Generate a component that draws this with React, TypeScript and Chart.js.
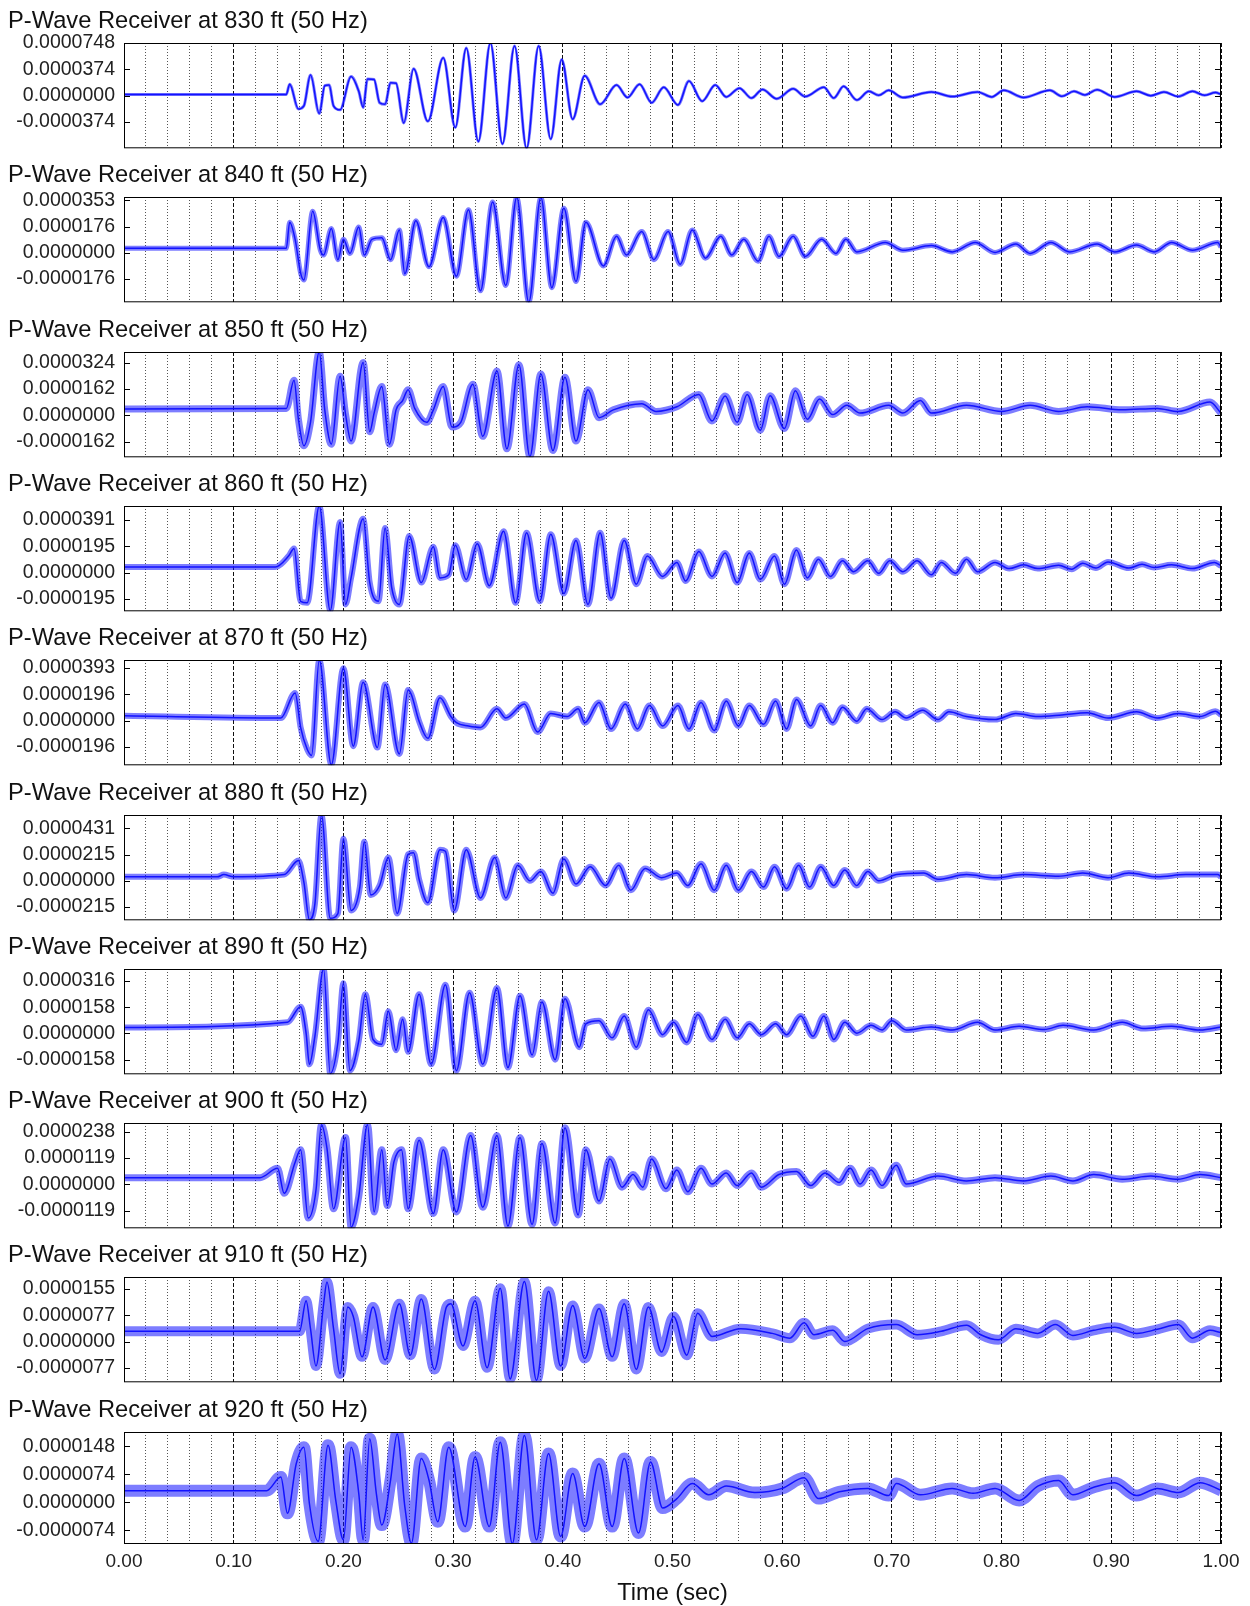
import React, { useEffect, useRef } from "react";
import { Chart, registerables } from "chart.js";
Chart.register(...registerables);

// ---- data (time in s, amplitude in micro-units, i.e. x 1e-6) ----
const panelTitles = [
  "P-Wave Receiver at 830 ft (50 Hz)",
  "P-Wave Receiver at 840 ft (50 Hz)",
  "P-Wave Receiver at 850 ft (50 Hz)",
  "P-Wave Receiver at 860 ft (50 Hz)",
  "P-Wave Receiver at 870 ft (50 Hz)",
  "P-Wave Receiver at 880 ft (50 Hz)",
  "P-Wave Receiver at 890 ft (50 Hz)",
  "P-Wave Receiver at 900 ft (50 Hz)",
  "P-Wave Receiver at 910 ft (50 Hz)",
  "P-Wave Receiver at 920 ft (50 Hz)",
];

const yTickMax = [0.0000748, 0.0000353, 0.0000324, 0.0000391, 0.0000393, 0.0000431, 0.0000316, 0.0000238, 0.0000155, 0.0000148];
const yTickHalf = [0.0000374, 0.0000176, 0.0000162, 0.0000195, 0.0000196, 0.0000215, 0.0000158, 0.0000119, 0.0000077, 0.0000074];
// axis limits (micro-units)
const yAxisMax = [74.8, 37.4, 38.9, 49.5, 45.2, 53.9, 38.7, 27.7, 19.0, 18.6];
const yAxisMin = [-74.8, -33.2, -25.9, -28.7, -33.4, -32.3, -24.5, -19.9, -12.0, -11.0];

const xTickLabels = ["0.00", "0.10", "0.20", "0.30", "0.40", "0.50", "0.60", "0.70", "0.80", "0.90", "1.00"];
const xAxisTitle = "Time (sec)";

const trace830 = [[0,1.8],[0.148,1.8],[0.151,16.3],[0.159,-18.9],[0.164,-14.5],[0.170,29.5],[0.178,-25.5],[0.183,14.1],[0.187,15.0],[0.191,-14.5],[0.197,-20.2],[0.207,27.3],[0.214,6.2],[0.218,-16.7],[0.222,23.8],[0.228,22.9],[0.233,-10.1],[0.238,-12.3],[0.243,18.5],[0.248,17.6],[0.255,-38.7],[0.264,38.3],[0.277,-36.5],[0.291,53.7],[0.302,-45.3],[0.312,67.8],[0.323,-65.1],[0.334,74.8],[0.345,-68.6],[0.356,70.4],[0.367,-74.8],[0.378,70.4],[0.389,-61.6],[0.399,51.5],[0.409,-33.4],[0.420,28.2],[0.434,-12.3],[0.449,15.0],[0.459,-2.6],[0.470,16.3],[0.481,-10.1],[0.492,11.9],[0.505,-13.2],[0.515,20.7],[0.527,-7.9],[0.539,15.0],[0.549,-1.8],[0.561,10.6],[0.572,-3.5],[0.582,8.8],[0.595,-4.4],[0.610,9.7],[0.621,-1.3],[0.638,11.9],[0.647,-3.5],[0.656,13.2],[0.668,-6.2],[0.679,6.2],[0.688,0.5],[0.697,7.5],[0.710,-2.6],[0.736,5.3],[0.755,-1.3],[0.778,5.3],[0.791,-1.8],[0.802,7.5],[0.820,-2.6],[0.844,7.5],[0.855,-0.9],[0.866,6.2],[0.876,1.0],[0.887,8.4],[0.903,-1.8],[0.923,6.2],[0.936,0.0],[0.948,5.3],[0.961,-1.3],[0.974,6.2],[0.985,0.5],[0.995,4.4],[1.0,1.8]];

const trace840 = [[0,3.1],[0.148,3.1],[0.151,20.5],[0.156,9.0],[0.161,-13.6],[0.164,-18.2],[0.172,27.8],[0.179,1.7],[0.182,-1.5],[0.189,16.3],[0.195,-4.6],[0.200,9.0],[0.206,-0.4],[0.214,17.3],[0.219,-1.5],[0.226,9.0],[0.235,10.0],[0.243,-4.6],[0.251,15.3],[0.256,-14.0],[0.266,21.5],[0.278,-9.4],[0.291,23.6],[0.303,-15.7],[0.314,28.8],[0.325,-25.5],[0.336,34.1],[0.348,-21.9],[0.358,37.2],[0.369,-33.2],[0.380,37.2],[0.390,-23.4],[0.401,29.9],[0.412,-19.2],[0.421,20.5],[0.437,-8.8],[0.449,11.1],[0.458,-1.5],[0.472,14.2],[0.483,-4.6],[0.496,14.2],[0.507,-7.7],[0.518,15.3],[0.530,-3.6],[0.544,11.1],[0.554,-1.5],[0.565,9.0],[0.578,-5.6],[0.588,11.1],[0.597,-2.5],[0.610,11.1],[0.621,-2.5],[0.636,9.0],[0.649,-0.4],[0.658,9.0],[0.668,0.6],[0.694,6.9],[0.710,1.7],[0.736,4.8],[0.755,0.6],[0.776,6.9],[0.794,0.2],[0.813,5.9],[0.826,-0.4],[0.845,6.9],[0.862,0.6],[0.887,5.9],[0.903,0.6],[0.923,5.2],[0.939,0.6],[0.955,6.9],[0.974,1.7],[0.997,6.9],[1.0,3.8]];

const trace850 = [[0,3.8],[0.148,4.2],[0.155,21.5],[0.159,-2.5],[0.164,-18.8],[0.170,-4.4],[0.178,38.9],[0.183,3.3],[0.189,-17.8],[0.197,24.0],[0.202,0.4],[0.207,-15.9],[0.218,32.4],[0.224,-10.2],[0.228,1.3],[0.235,17.6],[0.242,-17.8],[0.248,3.3],[0.254,9.0],[0.259,15.7],[0.265,4.2],[0.276,-4.4],[0.282,3.3],[0.291,17.6],[0.299,-7.3],[0.307,-4.4],[0.318,19.0],[0.327,-13.0],[0.340,27.2],[0.349,-20.7],[0.360,31.1],[0.370,-25.5],[0.380,25.3],[0.391,-21.7],[0.402,23.4],[0.412,-15.9],[0.423,15.7],[0.433,-1.5],[0.446,3.3],[0.472,7.1],[0.485,2.3],[0.504,5.2],[0.524,12.8],[0.536,-3.5],[0.548,11.9],[0.559,-4.4],[0.568,12.8],[0.580,-9.2],[0.589,11.9],[0.602,-8.2],[0.612,15.1],[0.623,-2.5],[0.634,10.0],[0.646,0.4],[0.659,6.1],[0.671,1.3],[0.697,6.1],[0.710,1.3],[0.726,9.0],[0.736,1.3],[0.768,6.1],[0.800,2.3],[0.826,6.1],[0.852,2.3],[0.878,5.2],[0.910,3.3],[0.942,4.2],[0.961,2.3],[0.990,8.1],[1.0,1.3]];

const trace860 = [[0,4.2],[0.138,4.2],[0.150,12.3],[0.155,18.0],[0.161,-21.3],[0.167,-22.4],[0.178,49.5],[0.188,-28.2],[0.197,37.7],[0.202,-23.6],[0.207,-3.9],[0.218,40.0],[0.224,-7.4],[0.232,-21.3],[0.238,33.1],[0.244,-10.9],[0.251,-23.6],[0.260,27.3],[0.271,-7.4],[0.282,19.2],[0.288,-3.9],[0.296,-1.6],[0.302,20.4],[0.312,-5.1],[0.322,21.5],[0.333,-9.7],[0.346,30.8],[0.357,-22.4],[0.367,29.6],[0.379,-21.3],[0.389,28.5],[0.401,-15.5],[0.412,23.8],[0.423,-23.6],[0.434,29.6],[0.444,-19.0],[0.456,23.8],[0.467,-8.6],[0.477,12.3],[0.491,-2.8],[0.504,7.6],[0.512,-6.2],[0.524,15.7],[0.536,-2.8],[0.548,14.6],[0.559,-7.4],[0.570,14.6],[0.580,-5.1],[0.593,12.3],[0.602,-8.6],[0.613,16.9],[0.623,-3.9],[0.633,10.0],[0.644,-2.8],[0.655,8.8],[0.665,0.7],[0.678,8.8],[0.688,-0.5],[0.698,8.8],[0.710,0.7],[0.723,8.8],[0.736,-1.6],[0.745,7.6],[0.758,-0.5],[0.768,10.0],[0.778,0.7],[0.794,7.6],[0.807,3.0],[0.820,5.8],[0.833,3.0],[0.852,5.5],[0.864,2.6],[0.874,7.0],[0.886,3.4],[0.897,8.0],[0.916,3.4],[0.928,6.2],[0.939,3.8],[0.955,5.8],[0.974,3.0],[0.994,7.6],[1.0,5.1]];

const trace870 = [[0,3.5],[0.143,1.9],[0.156,20.5],[0.161,-5.1],[0.167,-21.4],[0.171,-26.0],[0.178,45.1],[0.189,-33.0],[0.200,39.1],[0.209,-19.1],[0.218,28.6],[0.231,-20.2],[0.238,27.0],[0.251,-24.9],[0.259,22.8],[0.262,19.3],[0.269,-0.5],[0.277,-13.3],[0.288,17.0],[0.298,3.0],[0.303,-1.6],[0.314,-4.0],[0.325,-5.1],[0.340,8.8],[0.348,1.9],[0.365,12.3],[0.377,-8.6],[0.389,5.3],[0.404,3.0],[0.414,8.8],[0.420,-1.6],[0.433,13.5],[0.444,-6.3],[0.457,12.3],[0.468,-6.3],[0.479,11.2],[0.491,-4.0],[0.505,11.2],[0.515,-6.3],[0.526,13.5],[0.538,-7.4],[0.549,14.6],[0.560,-4.0],[0.570,11.2],[0.583,-2.8],[0.594,14.6],[0.604,-6.3],[0.613,15.8],[0.626,-4.0],[0.635,11.2],[0.646,-1.6],[0.655,10.0],[0.668,-0.5],[0.677,8.8],[0.691,0.7],[0.703,6.5],[0.713,1.9],[0.728,7.7],[0.742,0.7],[0.752,6.5],[0.768,3.0],[0.794,0.7],[0.813,5.3],[0.833,3.0],[0.855,4.2],[0.878,5.8],[0.897,1.9],[0.923,6.5],[0.942,1.9],[0.961,5.3],[0.981,3.0],[0.995,7.0],[1.0,4.2]];

const trace880 = [[0,3.3],[0.085,3.3],[0.091,5.1],[0.100,3.3],[0.146,5.1],[0.159,16.6],[0.164,-1.3],[0.169,-31.9],[0.174,-19.1],[0.180,53.8],[0.188,-30.6],[0.195,-26.8],[0.200,34.4],[0.207,-24.2],[0.215,-5.1],[0.219,31.9],[0.225,-11.5],[0.233,-3.8],[0.241,19.1],[0.249,-26.8],[0.259,21.7],[0.264,23.0],[0.269,1.3],[0.277,-17.9],[0.288,25.5],[0.293,24.2],[0.301,-24.2],[0.312,25.5],[0.325,-14.0],[0.338,19.1],[0.348,-14.0],[0.359,12.8],[0.370,0],[0.380,7.7],[0.391,-10.2],[0.401,17.9],[0.412,-2.6],[0.425,11.5],[0.439,-3.8],[0.451,12.8],[0.462,-7.7],[0.475,10.2],[0.490,2.6],[0.504,6.4],[0.514,-3.8],[0.526,14.0],[0.538,-7.7],[0.549,12.8],[0.560,-7.7],[0.572,7.7],[0.583,-5.1],[0.593,11.5],[0.604,-6.4],[0.615,12.8],[0.625,-5.1],[0.635,11.5],[0.647,-3.8],[0.657,8.9],[0.668,-3.8],[0.678,7.7],[0.688,0],[0.704,5.1],[0.729,6.4],[0.742,1.3],[0.768,5.1],[0.794,2.6],[0.820,5.1],[0.852,3.8],[0.874,6.4],[0.897,2.6],[0.916,6.4],[0.942,3.3],[0.968,5.1],[0.997,5.1],[1.0,3.3]];

const trace890 = [[0,3.6],[0.149,6.7],[0.161,16.1],[0.166,0.2],[0.169,-18.5],[0.174,-1.7],[0.182,38.7],[0.188,-24.1],[0.195,-5.4],[0.200,30.1],[0.206,-22.3],[0.214,-4.5],[0.220,23.6],[0.227,-3.6],[0.235,-6.4],[0.241,13.3],[0.248,-10.1],[0.254,8.6],[0.259,-11.0],[0.269,23.6],[0.280,-18.5],[0.293,29.2],[0.303,-22.3],[0.315,24.5],[0.327,-18.5],[0.340,27.3],[0.350,-20.4],[0.361,22.6],[0.372,-12.9],[0.381,18.9],[0.393,-15.7],[0.402,20.8],[0.415,-8.2],[0.421,5.8],[0.433,7.7],[0.445,-2.6],[0.456,10.5],[0.467,-8.2],[0.478,14.2],[0.491,-0.7],[0.501,6.7],[0.513,-5.4],[0.523,11.4],[0.536,-3.6],[0.548,8.6],[0.559,-2.6],[0.570,5.8],[0.581,-0.7],[0.594,5.8],[0.604,-0.7],[0.617,10.5],[0.628,-1.7],[0.638,10.5],[0.647,-3.6],[0.657,6.7],[0.668,0.2],[0.681,4.9],[0.691,2.1],[0.700,7.7],[0.713,2.1],[0.736,3.9],[0.755,2.1],[0.778,6.7],[0.794,2.1],[0.816,4.3],[0.839,2.4],[0.856,4.9],[0.884,2.1],[0.910,6.7],[0.929,3.0],[0.955,4.3],[0.981,2.1],[1.0,3.9]];

const trace900 = [[0,3.0],[0.124,3.0],[0.140,7.2],[0.146,-4.1],[0.156,10.0],[0.161,15.6],[0.168,-15.3],[0.175,-2.7],[0.180,26.9],[0.185,16.3],[0.191,-11.1],[0.202,21.1],[0.207,-19.4],[0.214,-5.5],[0.222,26.9],[0.228,-12.5],[0.235,15.6],[0.240,-9.7],[0.246,10.0],[0.253,15.6],[0.259,-11.1],[0.269,19.9],[0.282,-13.2],[0.291,15.6],[0.303,-12.5],[0.316,22.0],[0.327,-10.4],[0.340,22.0],[0.350,-18.9],[0.361,21.1],[0.372,-18.2],[0.381,18.4],[0.393,-17.5],[0.402,25.5],[0.414,-13.9],[0.421,15.6],[0.433,-7.6],[0.443,11.4],[0.454,-1.3],[0.464,4.4],[0.473,-1.3],[0.481,11.4],[0.494,-2.0],[0.504,6.5],[0.514,-3.4],[0.526,7.2],[0.536,0.1],[0.549,5.1],[0.559,-0.6],[0.572,5.1],[0.581,-1.3],[0.597,4.4],[0.613,5.8],[0.626,-0.6],[0.639,5.1],[0.652,0.8],[0.662,7.2],[0.671,0.1],[0.681,6.5],[0.691,-0.6],[0.704,8.6],[0.713,0.1],[0.742,3.7],[0.768,1.5],[0.794,3.0],[0.820,1.5],[0.845,3.7],[0.865,1.5],[0.884,4.4],[0.910,2.3],[0.936,3.7],[0.961,2.3],[0.981,4.4],[1.0,3.0]];

const trace910 = [[0,3.0],[0.160,3.0],[0.166,12.0],[0.170,3.8],[0.175,-7.2],[0.182,11.1],[0.185,17.5],[0.191,3.8],[0.197,-9.5],[0.204,10.2],[0.209,7.4],[0.217,-4.5],[0.227,10.2],[0.238,-5.4],[0.251,11.1],[0.261,-4.0],[0.271,12.5],[0.283,-8.2],[0.294,10.2],[0.298,11.1],[0.309,-1.3],[0.320,12.0],[0.331,-7.7],[0.343,15.7],[0.352,-11.0],[0.365,17.7],[0.376,-11.4],[0.387,14.8],[0.398,-7.2],[0.409,10.6],[0.420,-5.0],[0.433,9.7],[0.445,-4.5],[0.456,11.1],[0.467,-8.2],[0.478,10.2],[0.490,-3.1],[0.501,7.4],[0.513,-4.0],[0.523,8.3],[0.536,1.5],[0.562,3.8],[0.591,2.4],[0.607,1.0],[0.620,5.5],[0.629,2.0],[0.646,3.3],[0.657,0.0],[0.678,3.8],[0.704,5.0],[0.723,2.0],[0.745,3.0],[0.768,4.8],[0.781,2.0],[0.797,0.5],[0.813,3.8],[0.833,2.4],[0.849,5.0],[0.865,1.8],[0.884,3.3],[0.903,4.2],[0.923,2.4],[0.942,3.6],[0.961,5.0],[0.974,1.0],[0.990,3.3],[1.0,2.6]];

const trace920 = [[0,3.1],[0.130,3.1],[0.143,6.7],[0.149,-2.9],[0.157,10.2],[0.164,14.6],[0.169,-0.3],[0.177,-10.3],[0.186,15.1],[0.193,0.6],[0.200,-9.9],[0.207,14.6],[0.214,2.4],[0.218,-9.9],[0.224,16.8],[0.230,2.4],[0.235,-6.0],[0.243,5.9],[0.249,18.1],[0.256,-1.1],[0.262,-10.8],[0.271,11.6],[0.278,5.9],[0.286,-5.1],[0.296,14.6],[0.311,-6.4],[0.320,12.0],[0.333,-6.4],[0.343,15.9],[0.354,-10.9],[0.365,17.7],[0.376,-9.9],[0.387,12.9],[0.398,-9.0],[0.409,7.6],[0.420,-6.4],[0.433,10.2],[0.445,-6.4],[0.456,11.6],[0.469,-8.1],[0.480,10.7],[0.491,-1.5],[0.504,1.0],[0.518,5.0],[0.533,2.0],[0.549,4.3],[0.575,2.6],[0.600,3.7],[0.620,6.5],[0.633,1.0],[0.652,2.8],[0.678,3.7],[0.697,1.8],[0.704,5.0],[0.726,2.0],[0.755,3.7],[0.774,2.4],[0.794,3.7],[0.816,0.5],[0.833,4.3],[0.852,5.8],[0.865,2.0],[0.884,4.0],[0.903,5.2],[0.923,1.8],[0.942,3.7],[0.961,2.6],[0.981,5.2],[1.0,3.2]];

const traces = [trace830, trace840, trace850, trace860, trace870, trace880, trace890, trace900, trace910, trace920];

// ---- style / layout ----
const noiseBandWidths = [3, 5, 7, 6, 6, 6, 6, 7, 10, 12];
const FONT = "'Liberation Sans', Arial, Helvetica, sans-serif";
const TRACE_COLOR = "#1212ff";
const BAND_COLOR = "rgba(18,18,255,0.55)";
const BOX_TOP0 = 43;
const BOX_PITCH = 154.3;
const BOX_H = 112;
const TITLE_SPACE = 40;
const BOTTOM_PAD = 14;
const LAST_AXIS_H = 62;

const framePlugin = {
  id: "frame",
  afterDatasetsDraw(chart: any) {
    const { ctx, chartArea } = chart;
    const { left, top, right, bottom } = chartArea;
    const ys = chart.scales.y;
    ctx.save();
    ctx.setLineDash([]);
    ctx.strokeStyle = "#000";
    ctx.lineWidth = 1;
    ctx.strokeRect(left + 0.5, top + 0.5, right - left - 1, bottom - top - 1);
    ctx.beginPath();
    ys.ticks.forEach((t: any) => {
      const py = Math.round(ys.getPixelForValue(t.value)) + 0.5;
      ctx.moveTo(left, py);
      ctx.lineTo(left + 6, py);
      ctx.moveTo(right - 6, py);
      ctx.lineTo(right, py);
    });
    ctx.stroke();
    ctx.restore();
  },
};

function Panel({ idx }: { idx: number }) {
  const ref = useRef<HTMLCanvasElement>(null);
  const isLast = idx === traces.length - 1;
  const boxTop = Math.round(BOX_TOP0 + BOX_PITCH * idx);
  const top = boxTop - TITLE_SPACE;
  const height = TITLE_SPACE + BOX_H + (isLast ? LAST_AXIS_H : BOTTOM_PAD);

  useEffect(() => {
    const M = yTickMax[idx];
    const H = yTickHalf[idx];
    const pts = traces[idx].map(([t, v]) => ({ x: t, y: v * 1e-6 }));
    const chart = new Chart(ref.current as HTMLCanvasElement, {
      type: "line",
      data: {
        datasets: [
          {
            data: pts,
            borderColor: BAND_COLOR,
            borderWidth: noiseBandWidths[idx],
            pointRadius: 0,
            fill: false,
            cubicInterpolationMode: "monotone",
            borderJoinStyle: "round",
          },
          {
            data: pts,
            borderColor: TRACE_COLOR,
            borderWidth: 1.5,
            pointRadius: 0,
            fill: false,
            cubicInterpolationMode: "monotone",
            borderJoinStyle: "round",
          },
        ],
      },
      options: {
        responsive: false,
        animation: false,
        devicePixelRatio: 1,
        layout: { padding: { left: 8, right: 29, top: 0, bottom: isLast ? 0 : BOTTOM_PAD } },
        plugins: {
          legend: { display: false },
          tooltip: { enabled: false },
          title: {
            display: true,
            text: panelTitles[idx],
            align: "start",
            color: "#111",
            font: { family: FONT, size: 23.7, weight: "normal", lineHeight: 1.2 },
            padding: { top: 4, bottom: 7.56 },
          },
        },
        scales: {
          x: {
            type: "linear",
            min: 0,
            max: 1,
            afterBuildTicks: (s: any) => {
              const arr = [];
              for (let i = 0; i <= 50; i++) arr.push({ value: i / 50 });
              s.ticks = arr;
            },
            afterFit: (s: any) => {
              s.height = isLast ? LAST_AXIS_H : 0;
            },
            grid: {
              display: true,
              drawTicks: false,
              lineWidth: 1,
              color: (c: any) => (c.index % 5 === 0 ? "#111" : "#555"),
            },
            border: {
              display: false,
              dash: (c: any) => (c.index !== undefined && c.index % 5 === 0 ? [4, 2] : [1, 2]),
            },
            ticks: {
              display: isLast,
              autoSkip: false,
              maxRotation: 0,
              minRotation: 0,
              padding: 6,
              color: "#222",
              font: { family: FONT, size: 19 },
              callback: (_v: any, i: number) => (i % 5 === 0 ? xTickLabels[i / 5] : ""),
            },
            title: {
              display: isLast,
              text: xAxisTitle,
              color: "#111",
              font: { family: FONT, size: 23.6, lineHeight: 1 },
              padding: { top: 0, bottom: 0.5 },
            },
          },
          y: {
            type: "linear",
            min: yAxisMin[idx] * 1e-6,
            max: yAxisMax[idx] * 1e-6,
            afterBuildTicks: (s: any) => {
              s.ticks = [-H, 0, H, M].map((v) => ({ value: v }));
            },
            afterFit: (s: any) => {
              s.width = 116;
            },
            grid: { display: false, drawTicks: false },
            border: { display: false },
            ticks: {
              autoSkip: false,
              padding: 9,
              color: "#222",
              font: { family: FONT, size: 19.5 },
              callback: (v: any) => Number(v).toFixed(7),
            },
          },
        },
      },
      plugins: [framePlugin],
    } as any);
    return () => chart.destroy();
  }, [idx, isLast]);

  return (
    <canvas
      ref={ref}
      width={1250}
      height={height}
      style={{ position: "absolute", left: 0, top, width: 1250, height, display: "block" }}
    />
  );
}

export default function App() {
  return (
    <div
      style={{
        position: "absolute",
        left: 0,
        top: 0,
        width: 1250,
        height: 1606,
        overflow: "hidden",
        background: "#fff",
      }}
    >
      {traces.map((_, i) => (
        <Panel key={i} idx={i} />
      ))}
    </div>
  );
}
